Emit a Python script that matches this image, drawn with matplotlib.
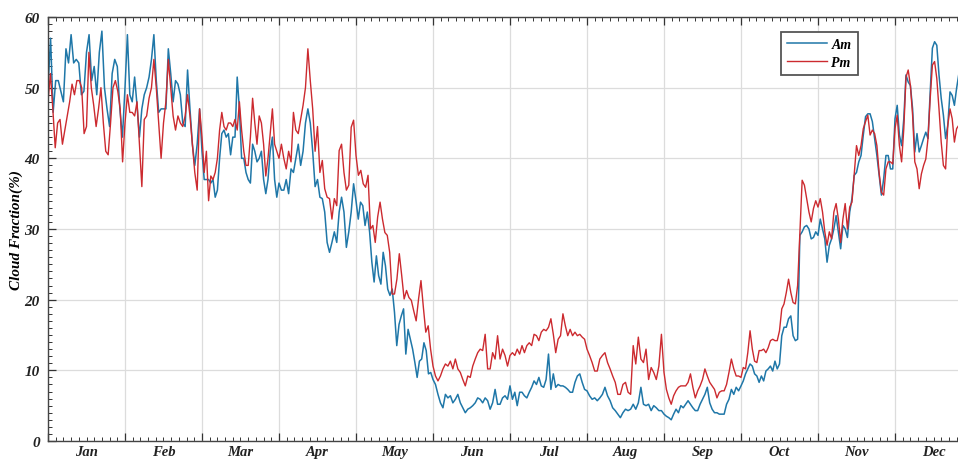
import numpy as np
import matplotlib
matplotlib.use('Agg')
import matplotlib.pyplot as plt
from matplotlib.ticker import MultipleLocator

plt.rcParams['font.family'] = ['Liberation Serif', 'DejaVu Serif']

months = ['Jan', 'Feb', 'Mar', 'Apr', 'May', 'Jun', 'Jul', 'Aug', 'Sep', 'Oct', 'Nov', 'Dec']

# Am cloud fraction (%), read month by month
am_jan = [50, 57, 46.5, 51, 51, 49.5, 48, 55.5, 53.5, 57.5, 53.5, 54, 53.5, 49, 49.5, 55, 57.5, 51,
          53, 49, 55, 58, 50, 47, 44.5, 52, 54, 53, 47, 43]
am_feb = [50, 57.5, 49, 48, 51.5, 47.5, 43, 47, 49, 50, 51.5, 54, 57.5, 51, 46.5, 47, 47, 47, 55.5,
          52, 48, 51, 50.5, 49, 45, 44.5, 52.5, 47, 42, 39, 42, 47]
am_mar = [41, 37, 37, 37, 36.5, 37, 34.5, 35.5, 40, 43.5, 44, 43, 43.5, 40.5, 43, 43, 51.5, 47, 40,
          40, 38, 37, 36.5, 42, 41, 39.5, 40, 41, 37, 35, 37, 41, 43, 37, 34.5]
am_apr = [36.5, 35.5, 35.5, 37, 35, 38.5, 38, 40, 42, 39, 41, 45, 47, 45, 41, 36, 37, 34.5, 34.3,
          32.4, 28.1, 26.7, 28.1, 29.6, 28.1, 32.4, 34.5, 32.4, 27.4, 29.6, 32.4, 36.4]
am_may = [34, 31.4, 33.8, 33.3, 30.5, 32.4, 29.6, 25.3, 22.5, 26.2, 23.4, 22.2, 26.7, 24.8, 21.5,
          20.6, 21.5, 18.2, 13.5, 16.5, 17.7, 18.7, 12.3, 15.8, 14.4, 13, 11.1, 9, 11.3, 11.6, 13.9,
          12.8, 9.5, 9.7]
am_jun = [8.7, 8, 6.6, 5.4, 4.7, 6.6, 6.1, 6.4, 5.4, 5.9, 6.6, 5.4, 4.7, 4, 4.5, 4.7, 5, 5.4, 6.1,
          5.9, 5.4, 6.1, 5.7, 4.5, 5.4, 7.3, 5.2, 5.2, 6.1, 6.4, 5.9]
am_jul = [7.8, 5.9, 6.9, 5, 6.9, 6.9, 6.4, 6.1, 6.9, 7.6, 8.5, 8, 9, 7.8, 7.6, 8.7, 12.3, 7.3, 9.5,
          7.6, 8, 7.8, 7.8, 7.6, 7.3, 6.9, 6.9, 8.3, 9.2, 9.5, 8.3, 7.3]
am_aug = [7.1, 6.4, 5.9, 6.1, 5.7, 6.1, 6.6, 7.6, 6.4, 5.7, 4.7, 4.3, 3.8, 3.3, 4, 4.5, 4.3, 4.5,
          5.2, 4.5, 5.4, 7.6, 5.2, 5, 5.2, 4.3, 5, 4.7, 4.3, 4.3]
am_sep = [3.8, 3.5, 3.3, 3, 3.8, 4.5, 4, 5, 4.7, 5.2, 5.7, 5.2, 4.7, 4.3, 4.3, 5.2, 5.9, 6.6, 7.6,
          5.4, 4.5, 4, 4, 3.8, 3.8, 3.8, 5.2, 5.9, 7.3, 6.6, 7.6, 7.1]
am_oct = [7.8, 8.5, 9.5, 10.2, 10.9, 10.6, 9.5, 9.2, 8.3, 9.2, 8.5, 9.9, 10.2, 10.6, 9.9, 11.3,
          10.2, 10.9, 14.9, 16.1, 16.1, 17.3, 17.7, 14.9, 14.2, 14.4, 29.1, 29.6, 30.3, 30.5, 30,
          28.6, 28.8, 29.6]
am_nov = [29.1, 31.4, 30, 28.6, 25.3, 27.7, 28.6, 30, 31.9, 29.6, 27.2, 30.5, 30, 28.8, 32.4, 34.3,
          37.6, 38, 39.5, 40.4, 43.3, 45.9, 46.3, 46.3, 45.2, 42.8, 40.4, 37.6, 34.8, 37.1, 40.4,
          40.4, 38.5, 38.5]
am_dec = [45.6, 47.5, 43.3, 41.8, 45.6, 51.8, 50.8, 50.3, 47, 40.9, 43.5, 40.9, 41.8, 42.8, 43.7,
          42.8, 49.4, 55.6, 56.5, 56, 51.8, 48.5, 46.1, 42.8, 44.7, 49.4, 48.9, 47.5, 49.9, 52,
          53, 52, 51, 50, 50]

# Pm cloud fraction (%)
pm_jan = [48, 52, 47, 41.5, 45, 45.5, 42, 44, 46, 48, 50.5, 49, 51, 51, 50, 43.5, 44.5, 55, 50,
          47.5, 44.5, 47, 50, 45, 41, 40.5, 45, 50, 51, 49.5, 47, 39.5]
pm_feb = [45, 49, 46.5, 46.5, 46, 48, 42, 36, 45.5, 46, 48.5, 50, 54, 50, 45, 40, 45, 48, 54, 50,
          46, 44, 46, 45, 44.5, 46, 49, 46, 42, 38, 35.5, 47]
pm_mar = [43, 38, 41, 34, 37.5, 37, 38, 40, 44, 46.5, 44.5, 44, 45, 45, 44.5, 45.5, 44, 48, 44, 41,
          39, 39, 43, 48.5, 45, 42, 46, 45, 42, 37.5, 40, 43.5, 47, 42, 41]
pm_apr = [40, 42, 40, 38.5, 41, 39.5, 46.5, 44, 43.5, 45.5, 47.5, 50, 55.5, 51, 47, 41, 44.5, 38,
          39.7, 35.7, 34.5, 34.3, 31.4, 34.3, 33.3, 41.1, 42, 38, 35.5, 36.2, 44.4, 45.4]
pm_may = [40.4, 37.6, 38.3, 36.4, 35.9, 37.6, 30, 30.5, 28.1, 31.7, 33.8, 31.4, 29.5, 29.1, 26.7,
          20.8, 20.8, 22.9, 26.5, 23.4, 20.1, 21.3, 20.3, 19.9, 18.4, 17, 20.1, 22.7, 18.9, 15.4,
          16.3, 13]
pm_jun = [10.6, 9.2, 8.5, 9.2, 10.2, 10.9, 10.6, 11.3, 10.2, 11.6, 10.2, 9.7, 8.7, 7.8, 9.2, 9,
          10.6, 11.6, 12.5, 13, 12.8, 15.1, 10.2, 10.2, 12.5, 11.6, 14.9, 11.6, 13, 12.1, 10.6]
pm_jul = [12.1, 12.5, 12.1, 13, 12.3, 13.5, 12.5, 13.5, 13.9, 13.5, 15.1, 14.9, 14.2, 15.4, 15.8,
          15.6, 16.1, 17.3, 15.1, 12.5, 14.4, 14.9, 18, 16.3, 14.9, 15.8, 14.9, 15.4, 14.9, 15.1,
          14.7, 14.4]
pm_aug = [13, 12.1, 11.1, 9.9, 9.9, 11.6, 12.1, 12.5, 11.1, 10.2, 9.2, 8.3, 6.6, 6.6, 8, 8.3, 6.9,
          6.6, 13.5, 10.9, 14.7, 11.6, 11.1, 13, 8.7, 10.4, 9.7, 8.7, 10.6, 15.1]
pm_sep = [9.7, 7.3, 6.1, 5.2, 6.4, 7.1, 7.6, 7.8, 7.8, 7.8, 8.3, 9.5, 7.6, 6.1, 7.1, 7.8, 8.7, 10.2,
          9.2, 8.3, 7.8, 7.3, 6.1, 6.9, 7.1, 7.1, 8, 9.7, 11.6, 10.2, 9.2, 9.2]
pm_oct = [9, 10.4, 10.2, 12.5, 15.6, 13, 11.3, 11.1, 12.8, 12.8, 13, 12.5, 13.2, 14.2, 14.4, 14.2,
          14.2, 15.6, 18.7, 19.4, 21, 22.9, 21, 19.6, 19.4, 22, 29.5, 36.9, 36.2, 34.3, 32.4, 31,
          32.9, 34]
pm_nov = [33.1, 34.3, 32.4, 29.6, 27.7, 29.6, 28.6, 32.4, 33.6, 31.4, 28.1, 31.4, 33.6, 30, 33.1,
          33.8, 37.9, 41.8, 40.4, 41.8, 44.2, 45.2, 46.1, 43.3, 44, 43.5, 41.8, 37.9, 35.2, 34.8,
          38.5, 39.5, 39.5, 39.2]
pm_dec = [44.2, 46.1, 41.8, 39.5, 44.2, 51.5, 52.5, 50.3, 46.1, 39.5, 38.5, 35.7, 37.8, 39, 39.9,
          42.8, 48.5, 53.2, 53.7, 51.3, 47, 42.3, 39, 38.5, 44.7, 47, 45.6, 42.3, 44.2, 44.7,
          45, 46, 47, 48, 48]

am_months = [am_jan, am_feb, am_mar, am_apr, am_may, am_jun, am_jul, am_aug, am_sep, am_oct, am_nov, am_dec]
pm_months = [pm_jan, pm_feb, pm_mar, pm_apr, pm_may, pm_jun, pm_jul, pm_aug, pm_sep, pm_oct, pm_nov, pm_dec]


def month_series(month_lists):
    # spread each month's values evenly over that month (x in month units)
    xs, ys = [], []
    for m, vals in enumerate(month_lists):
        n = len(vals)
        xs.extend(m + np.arange(n) / n)
        ys.extend(vals)
    return np.array(xs), np.array(ys)


x_am, y_am = month_series(am_months)
x_pm, y_pm = month_series(pm_months)

fig = plt.figure(figsize=(9.58, 4.6), dpi=100)
# axes runs past the right edge of the figure, as in the cropped original
ax = fig.add_axes([48 / 958, 18 / 460, 924 / 958, 424 / 460])

ax.plot(x_am, y_am, color='#1f77a8', lw=1.1, label='Am')
ax.plot(x_pm, y_pm, color='#cc2a2f', lw=1.0, label='Pm')

ax.set_xlim(0, 12)
ax.set_ylim(0, 60)

ax.xaxis.set_major_locator(MultipleLocator(1))
ax.xaxis.set_minor_locator(MultipleLocator(0.1))
ax.yaxis.set_major_locator(MultipleLocator(10))
ax.yaxis.set_minor_locator(MultipleLocator(1))
ax.set_xticklabels([])
ax.tick_params(which='both', direction='in', top=True, right=True, colors='#333333')
ax.tick_params(which='major', length=6, width=0.9)
ax.tick_params(which='minor', length=3, width=0.7)
ax.tick_params(axis='y', which='major', labelsize=11, pad=6)
for lab in ax.get_yticklabels():
    lab.set_fontweight('bold')
    lab.set_fontstyle('italic')
    lab.set_color('#222222')

ax.grid(True, which='major', color='#dcdcdc', lw=0.9)
for s in ax.spines.values():
    s.set_color('#444444')
    s.set_linewidth(1.0)

# month names centred in each month, kept just inside the bottom of the figure
for m, name in enumerate(months):
    ax.text(m + 0.5, 0, name, transform=ax.get_xaxis_transform(), ha='center', va='bottom',
            fontsize=10.5, fontweight='bold', fontstyle='italic', color='#222222')
for t in ax.texts:
    t.set_transform(ax.get_xaxis_transform() + matplotlib.transforms.ScaledTranslation(0, -17 / 100, fig.dpi_scale_trans))

ax.set_ylabel('Cloud Fraction(%)', fontsize=11, fontweight='bold', fontstyle='italic', labelpad=1)

leg = ax.legend(loc='upper left', bbox_to_anchor=(0.793, 0.965), borderaxespad=0, fancybox=False,
                framealpha=1, edgecolor='#555555', handlelength=2.9, handletextpad=0.3,
                borderpad=0.45, labelspacing=0.35,
                prop={'weight': 'bold', 'style': 'italic', 'size': 10})
leg.get_frame().set_linewidth(1.3)

fig.savefig('out.png', dpi=100)
